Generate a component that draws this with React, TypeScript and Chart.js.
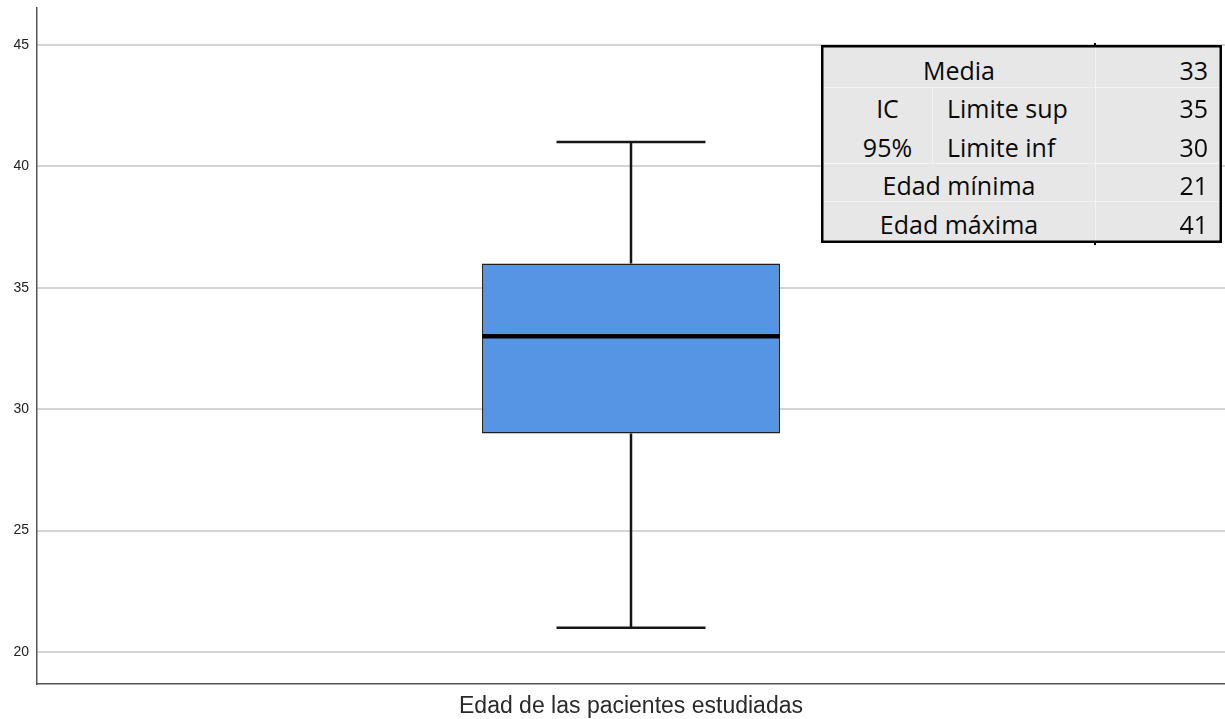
import React, { useEffect, useRef } from "react";
import { Chart, registerables } from "chart.js";

Chart.register(...registerables);

// ---- data ----
const categories = ["Edad de las pacientes estudiadas"];
const q1Values = [29];
const q3Values = [36];
const medianValues = [33];
const minValues = [21];
const maxValues = [41];
const yTickValues = [20, 25, 30, 35, 40, 45];
const yMin = 18.68;
const yMax = 46.52;

const ciLabels = ["IC", "95%"];
const statLabels = ["Media", "Limite sup", "Limite inf", "Edad mínima", "Edad máxima"];
const statValues = [33, 35, 30, 21, 41];

const boxPlotPlugin = {
  id: "boxWhiskers",
  afterDatasetsDraw(chart: any) {
    const meta = chart.getDatasetMeta(0);
    const yScale = chart.scales.y;
    const ctx = chart.ctx;
    ctx.save();
    meta.data.forEach((bar: any, i: number) => {
      const x = bar.x;
      const w = bar.width;
      const yQ1 = yScale.getPixelForValue(q1Values[i]);
      const yQ3 = yScale.getPixelForValue(q3Values[i]);
      const yMed = yScale.getPixelForValue(medianValues[i]);
      const yLo = yScale.getPixelForValue(minValues[i]);
      const yHi = yScale.getPixelForValue(maxValues[i]);
      ctx.strokeStyle = "#161616";
      ctx.lineCap = "butt";
      ctx.lineWidth = 2.5;
      ctx.beginPath();
      ctx.moveTo(x, yQ3);
      ctx.lineTo(x, yHi);
      ctx.moveTo(x, yQ1);
      ctx.lineTo(x, yLo);
      ctx.moveTo(x - w / 4, yHi);
      ctx.lineTo(x + w / 4, yHi);
      ctx.moveTo(x - w / 4, yLo);
      ctx.lineTo(x + w / 4, yLo);
      ctx.stroke();
      ctx.strokeStyle = "#000";
      ctx.lineWidth = 4.5;
      ctx.beginPath();
      ctx.moveTo(x - w / 2, yMed);
      ctx.lineTo(x + w / 2, yMed);
      ctx.stroke();
    });
    ctx.restore();
  },
};

function StatsTable() {
  const left = 821;
  const top = 45;
  const width = 401;
  const height = 198;
  const rowCenters = [70.5, 109, 147.5, 185.5, 224.5];
  const lh = 34;
  const textBase: React.CSSProperties = {
    position: "absolute",
    height: lh,
    lineHeight: lh + "px",
    whiteSpace: "nowrap",
  };
  const rel = (y: number) => y - top - lh / 2 - 0.7;
  const items: React.ReactNode[] = [];
  [0, 3, 4].forEach((r) => {
    items.push(
      <div key={"l" + r} style={{ ...textBase, top: rel(rowCenters[r]), left: 0, width: 1095 - left, textAlign: "center", paddingLeft: 2, boxSizing: "border-box" }}>
        {statLabels[r]}
      </div>
    );
  });
  [1, 2].forEach((r) => {
    items.push(
      <div key={"l" + r} style={{ ...textBase, top: rel(rowCenters[r]), left: 947 - left }}>
        {statLabels[r]}
      </div>
    );
    items.push(
      <div key={"c" + r} style={{ ...textBase, top: rel(rowCenters[r]), left: 0, width: 932 - left + 22, textAlign: "center" }}>
        {ciLabels[r - 1]}
      </div>
    );
  });
  statValues.forEach((v, r) => {
    items.push(
      <div key={"v" + r} style={{ ...textBase, top: rel(rowCenters[r]), left: 0, width: 1208 - left, textAlign: "right" }}>
        {v}
      </div>
    );
  });
  const sep = "#f3f3f3";
  return (
    <div
      style={{
        position: "absolute",
        left,
        top,
        width,
        height,
        background: "#e7e7e7",
        fontFamily: "'Open Sans', sans-serif",
        fontSize: 25,
        color: "#0a0a0a",
      }}
    >
      <div style={{ position: "absolute", left: 0, right: 0, top: 87 - top, height: 1, background: sep }} />
      <div style={{ position: "absolute", left: 0, right: 0, top: 163 - top, height: 1, background: sep }} />
      <div style={{ position: "absolute", left: 0, right: 0, top: 201 - top, height: 1, background: sep }} />
      <div style={{ position: "absolute", left: 932 - left, width: 1, top: 87 - top, height: 76, background: sep }} />
      <div style={{ position: "absolute", left: 1095 - left, width: 1, top: 0, bottom: 0, background: sep }} />
      {items}
      <div style={{ position: "absolute", inset: 0, boxShadow: "inset 0 0 0 2.5px #000" }} />
      <div style={{ position: "absolute", left: 1094 - left, width: 2, top: -2, height: 4, background: "#000" }} />
      <div style={{ position: "absolute", left: 1094 - left, width: 2, bottom: -2, height: 4, background: "#000" }} />
    </div>
  );
}

export default function App() {
  const canvasRef = useRef<HTMLCanvasElement | null>(null);

  useEffect(() => {
    if (!canvasRef.current) return;
    const chart = new Chart(canvasRef.current, {
      type: "bar",
      data: {
        labels: categories,
        datasets: [
          {
            data: q1Values.map((q, i) => [q, q3Values[i]]) as any,
            backgroundColor: "#5595e3",
            borderColor: "#1f1f1f",
            borderWidth: 1.5,
            borderSkipped: false,
            barPercentage: 0.2508,
            categoryPercentage: 1,
          },
        ],
      },
      options: {
        responsive: false,
        animation: false,
        layout: { padding: { top: 8, left: 0, right: 0, bottom: 0 } },
        plugins: {
          legend: { display: false },
          tooltip: { enabled: false },
          title: { display: false },
        },
        scales: {
          x: {
            type: "category",
            grid: { display: false, drawTicks: false },
            border: { display: true, color: "#555", width: 1.5 },
            ticks: {
              color: "#2a2a2a",
              padding: 9,
              font: { family: "'Liberation Sans', Arial, sans-serif", size: 23 },
            },
            afterFit(scale: any) {
              scale.height = 35;
              scale.paddingLeft = 0;
              scale.paddingRight = 0;
            },
          },
          y: {
            type: "linear",
            min: yMin,
            max: yMax,
            grid: { color: "#d4d4d4", lineWidth: 2, drawTicks: false },
            border: { display: true, color: "#555", width: 1.5 },
            ticks: {
              color: "#222",
              padding: 8,
              font: { family: "'Liberation Sans', Arial, sans-serif", size: 14 },
            },
            afterBuildTicks(scale: any) {
              scale.ticks = yTickValues.map((v) => ({ value: v }));
            },
            afterFit(scale: any) {
              scale.width = 37;
              scale.paddingTop = 0;
              scale.paddingBottom = 0;
            },
          },
        },
      },
      plugins: [boxPlotPlugin],
    });
    return () => chart.destroy();
  }, []);

  return (
    <div style={{ position: "fixed", left: 0, top: 0, width: 1225, height: 719, background: "#fff" }}>
      <canvas ref={canvasRef} width={1225} height={719} style={{ display: "block", width: 1225, height: 719 }} />
      <StatsTable />
    </div>
  );
}
